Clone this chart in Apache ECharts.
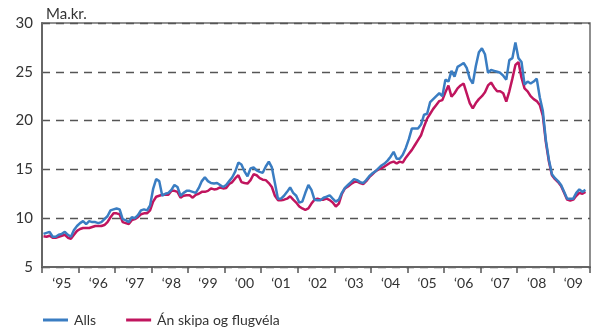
<!DOCTYPE html>
<html>
<head>
<meta charset="utf-8">
<script src="https://cdn.jsdelivr.net/npm/echarts@6/dist/echarts.min.js"></script>
<style>
  html, body { margin: 0; padding: 0; background: #fff; }
  #chart { width: 592px; height: 328px; }
</style>
</head>
<body>
<div id="chart"></div>
<script>
// Monthly values, Jan 1995 – Nov 2009 (ma.kr.)
const firstYear = 1995;
const lastYear = 2009;

const alls = [
  8.4, 8.5, 8.6, 8.1, 8.1, 8.3, 8.4, 8.6, 8.3, 8.1, 8.8, 9.2,
  9.5, 9.7, 9.4, 9.7, 9.6, 9.6, 9.5, 9.6, 9.9, 10.2, 10.8, 10.9,
  11.0, 10.9, 9.9, 9.8, 9.6, 10.1, 10.0, 10.3, 10.8, 10.9, 10.8, 11.3,
  13.0, 14.0, 13.8, 12.3, 12.5, 12.6, 12.9, 13.4, 13.2, 12.3, 12.6, 12.8,
  12.8, 12.7, 12.6, 13.1, 13.8, 14.2, 13.8, 13.6, 13.55, 13.6, 13.4, 13.2,
  13.4, 13.8, 14.2, 14.8, 15.7, 15.5, 14.8, 14.3, 15.1, 15.2, 14.9, 14.75,
  14.65, 15.3, 15.8, 15.2, 13.6, 12.0, 12.0, 12.3, 12.7, 13.15, 12.6, 12.3,
  11.6, 11.7, 12.6, 13.4, 12.9, 11.9, 11.85, 11.85, 12.1, 12.2, 12.35, 12.0,
  11.7, 11.9, 12.6, 13.1, 13.4, 13.7, 14.0, 13.9, 13.7, 13.6, 13.9, 14.3,
  14.6, 14.8, 15.1, 15.4, 15.6, 15.9, 16.3, 16.8, 16.1, 16.1, 16.5, 17.2,
  18.1, 19.2, 19.2, 19.2, 19.6, 20.6, 20.7, 21.9, 22.2, 22.5, 22.8, 22.5,
  24.2, 24.0, 25.1, 24.5, 25.5, 25.7, 25.9, 25.4, 24.3, 23.8, 25.6, 27.0,
  27.4, 26.8, 24.9, 25.2, 25.1, 25.0, 24.9, 24.6, 24.2, 26.2, 26.4, 28.0,
  26.4, 26.0, 23.7, 24.0, 23.8, 24.0, 24.3, 22.4, 21.0, 18.0, 16.0, 14.5,
  14.1, 13.8, 13.4, 12.7, 12.0, 12.0, 12.0, 12.6, 12.95, 12.7, 12.9
];

const anSkipa = [
  8.15, 8.1, 8.2, 8.0, 8.0, 8.1, 8.2, 8.3, 8.0, 7.9, 8.3, 8.7,
  8.9, 9.0, 9.0, 9.0, 9.1, 9.2, 9.2, 9.2, 9.3, 9.6, 10.1, 10.5,
  10.5, 10.4, 9.6, 9.5, 9.4, 9.8, 9.9, 10.1, 10.4, 10.5, 10.5, 10.8,
  11.7, 12.2, 12.3, 12.4, 12.4, 12.4, 12.8, 12.8, 12.7, 12.1, 12.3, 12.35,
  12.35, 12.1, 12.4, 12.5, 12.7, 12.7, 12.8, 13.05, 12.95, 13.0, 13.15, 13.05,
  13.1, 13.5, 13.7, 14.1, 14.4, 13.7, 13.6, 13.55, 13.9, 14.5, 14.4, 14.1,
  13.95, 13.9, 13.6, 13.2, 12.3, 11.85, 11.85, 11.9, 12.0, 12.25, 11.9, 11.6,
  11.2, 11.0, 10.85, 11.0, 11.5, 11.9, 12.0, 11.9, 11.9, 12.0, 11.85, 11.6,
  11.2, 11.5, 12.5, 13.05, 13.25, 13.5, 13.7, 13.75, 13.6, 13.5, 13.8, 14.2,
  14.5, 14.8, 15.0, 15.1, 15.3, 15.5, 15.7, 15.8, 15.6, 15.8, 15.7, 16.2,
  16.6, 17.0, 17.5, 18.0, 18.5, 19.4, 20.2, 20.7, 21.2, 21.6, 22.0, 22.1,
  22.9, 23.6, 22.45, 22.8, 23.3, 23.6, 23.8, 22.8, 21.8, 21.25, 21.8, 22.2,
  22.5, 22.9, 23.6, 23.9, 23.4, 23.0, 23.0, 22.8, 21.95, 23.0, 24.3, 25.7,
  26.0, 24.4, 23.3, 23.0, 22.5, 22.2, 22.0, 21.6, 20.5, 17.8, 15.8, 14.4,
  14.0, 13.7, 13.3, 12.6, 11.9, 11.8, 11.9, 12.3, 12.6, 12.5, 12.7
];

const yTicks = { min: 5, max: 30, step: 5 };

// Month categories for the full span of years on the axis
const months = [];
for (let y = firstYear; y <= lastYear; y++) {
  for (let m = 1; m <= 12; m++) {
    months.push(y + '-' + String(m).padStart(2, '0'));
  }
}

const FONT = 'Lato, "Open Sans", "Noto Sans", sans-serif';
const BLUE = '#3a7dc2';
const MAGENTA = '#c0155e';

const chart = echarts.init(document.getElementById('chart'), null, { renderer: 'canvas' });

chart.setOption({
  animation: false,
  backgroundColor: '#ffffff',
  textStyle: { fontFamily: FONT },
  title: {
    text: 'Ma.kr.',
    left: 41,
    top: 2,
    textStyle: { fontFamily: FONT, fontSize: 15, fontWeight: 'normal', color: '#333' }
  },
  grid: {
    left: 42, right: 2, top: 23, bottom: 61,
    show: true,
    borderColor: '#6b6b6b',
    borderWidth: 1.5,
    backgroundColor: 'transparent'
  },
  legend: {
    data: ['Alls', 'Án skipa og flugvéla'],
    left: 38,
    top: 308,
    icon: 'rect',
    itemWidth: 25,
    itemHeight: 3,
    itemGap: 30,
    textStyle: { fontFamily: FONT, fontSize: 14, color: '#333', padding: [0, 0, 0, 1] }
  },
  xAxis: {
    type: 'category',
    data: months,
    boundaryGap: true,
    axisLine: { lineStyle: { color: '#666', width: 2 } },
    axisTick: {
      show: true,
      length: 6,
      interval: function (i) { return i % 12 === 0; },
      lineStyle: { color: '#555', width: 1.5 }
    },
    axisLabel: {
      interval: function (i) { return i % 12 === 6; },
      formatter: function (v) { return '\u2018' + v.slice(2, 4); },
      fontFamily: FONT,
      fontSize: 14,
      color: '#333',
      margin: 9
    },
    splitLine: { show: false }
  },
  yAxis: {
    type: 'value',
    min: yTicks.min,
    max: yTicks.max,
    interval: yTicks.step,
    axisLine: { show: true, lineStyle: { color: '#666', width: 2 } },
    axisTick: { show: false },
    axisLabel: { fontFamily: FONT, fontSize: 15, color: '#333', margin: 9 },
    splitLine: { show: true, lineStyle: { color: '#555', width: 1.3, type: [8, 6] } }
  },
  series: [
    {
      name: 'Án skipa og flugvéla',
      type: 'line',
      data: anSkipa,
      symbol: 'none',
      itemStyle: { color: MAGENTA },
      lineStyle: { color: MAGENTA, width: 2.5 },
      z: 2
    },
    {
      name: 'Alls',
      type: 'line',
      data: alls,
      symbol: 'none',
      itemStyle: { color: BLUE },
      lineStyle: { color: BLUE, width: 2.5 },
      z: 3
    }
  ]
});
</script>
</body>
</html>
